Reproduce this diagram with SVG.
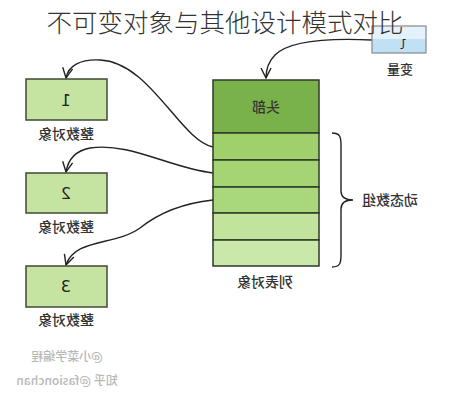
<svg xmlns="http://www.w3.org/2000/svg" width="452" height="400" viewBox="0 0 452 400">
<style>
.lbl{font-family:"Noto Sans CJK SC","Noto Sans",sans-serif;font-size:14px;fill:#333;text-anchor:middle;font-weight:500}
.num{font-family:"DejaVu Sans","Liberation Sans",sans-serif;font-size:16px;fill:#222;text-anchor:middle}
.wm{font-family:"Noto Sans CJK SC","Noto Sans",sans-serif;font-size:12px;fill:#b8b8b8;text-anchor:middle;font-weight:500}
.box{fill:#c5e4a2;stroke:#3f4a35;stroke-width:1.5}
.cell{stroke:#2f3a28;stroke-width:1.5}
.con{fill:none;stroke:#222;stroke-width:1.4}
</style>
<defs>
<marker id="arr" viewBox="0 0 12 12" refX="11" refY="6" markerWidth="12" markerHeight="12" markerUnits="userSpaceOnUse" orient="auto">
<path d="M1,1 L11,6 L1,11" fill="none" stroke="#222" stroke-width="1.4"/>
</marker>
<linearGradient id="vg" x1="0" y1="0" x2="0" y2="1">
<stop offset="0" stop-color="#e4f2fc"/><stop offset="0.5" stop-color="#e4f2fc"/><stop offset="0.5" stop-color="#bfe0f5"/><stop offset="1" stop-color="#bfe0f5"/>
</linearGradient>
</defs>
<rect width="452" height="400" fill="#fff"/>

<g id="connectors">
<path class="con" d="M372,40 C330,38 290,40 275,55 C268,62 266,70 266,78" marker-end="url(#arr)"/>
<path class="con" d="M213,147 C180,140 150,62 100,60 C80,59 68,66 66,78" marker-end="url(#arr)"/>
<path class="con" d="M213,173 C170,168 130,142 90,148 C74,151 68,160 66,172" marker-end="url(#arr)"/>
<path class="con" d="M213,200 C185,203 160,212 140,228 C115,246 75,238 66,265" marker-end="url(#arr)"/>
<path class="con" d="M332,133 C340,133 341,137 341,145 L341,191 C341,197 345,200 353,200 C345,200 341,203 341,209 L341,255 C341,263 340,267 332,267"/>
</g>

<g id="variable">
<rect x="372" y="26" width="54" height="27" fill="url(#vg)" stroke="#888" stroke-width="1.2"/>
<text class="num" transform="scale(-1,1)" x="-403" y="49" style="font-family:'DejaVu Sans Mono',monospace;font-size:12px">l</text>
<text class="lbl" transform="scale(-1,1)" x="-400" y="74" style="font-size:13px">变量</text>
</g>

<text x="225" y="32" style="font-family:'Noto Sans CJK SC','Noto Sans',sans-serif;font-size:25.5px;fill:#333;font-weight:300" text-anchor="middle">不可变对象与其他设计模式对比</text>

<g id="list">
<rect class="cell" x="213" y="80" width="106" height="53" fill="#79b14a"/>
<rect class="cell" x="213" y="133" width="106" height="27" fill="#9fd06c"/>
<rect class="cell" x="213" y="160" width="106" height="27" fill="#a4d474"/>
<rect class="cell" x="213" y="187" width="106" height="26" fill="#a9d77b"/>
<rect class="cell" x="213" y="213" width="106" height="27" fill="#c2e39c"/>
<rect class="cell" x="213" y="240" width="106" height="26" fill="#cbe8ab"/>
<text class="lbl" transform="scale(-1,1)" x="-266" y="112">头部</text>
<text class="lbl" transform="scale(-1,1)" x="-265" y="287">列表对象</text>
<text class="lbl" transform="scale(-1,1)" x="-390" y="205">动态数组</text>
</g>

<g id="int1">
<rect class="box" x="26" y="79" width="81" height="41"/>
<text class="num" transform="scale(-1,1)" x="-66" y="106">1</text>
<text class="lbl" transform="scale(-1,1)" x="-66" y="139">整数对象</text>
</g>
<g id="int2">
<rect class="box" x="26" y="173" width="81" height="40"/>
<text class="num" transform="scale(-1,1)" x="-66" y="199">2</text>
<text class="lbl" transform="scale(-1,1)" x="-66" y="232">整数对象</text>
</g>
<g id="int3">
<rect class="box" x="26" y="266" width="81" height="41"/>
<text class="num" transform="scale(-1,1)" x="-66" y="292">3</text>
<text class="lbl" transform="scale(-1,1)" x="-66" y="325">整数对象</text>
</g>

<g id="watermark">
<text class="wm" transform="scale(-1,1)" x="-67" y="361">@小菜学编程</text>
<text class="wm" transform="scale(-1,1)" x="-67" y="385">知乎 @fasionchan</text>
</g>
</svg>
